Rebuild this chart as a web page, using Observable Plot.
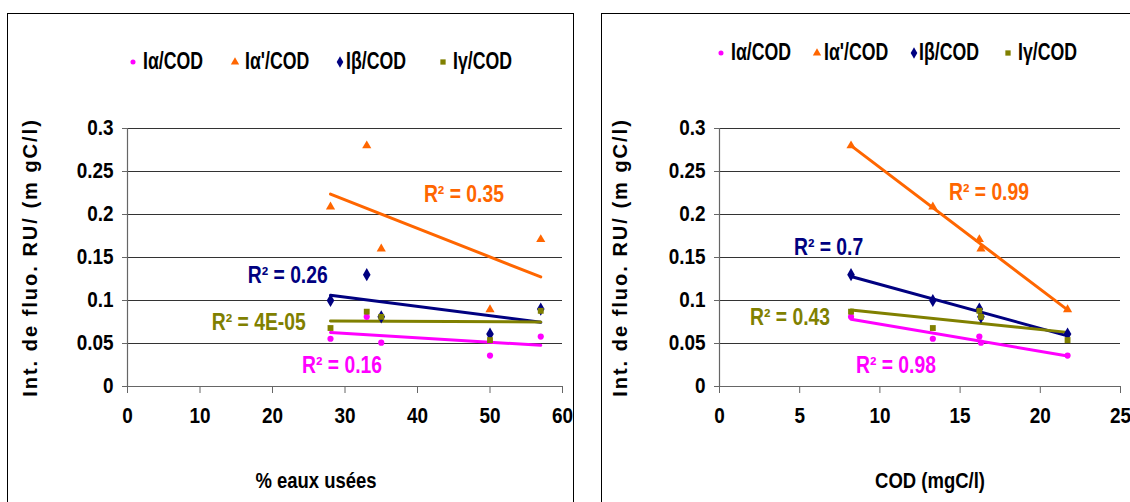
<!DOCTYPE html>
<html>
<head>
<meta charset="utf-8">
<script src="https://cdn.jsdelivr.net/npm/d3@7"></script>
<script src="https://cdn.jsdelivr.net/npm/@observablehq/plot@0.6"></script>
<style>
  html, body { margin: 0; padding: 0; background: #fff; }
  #page { position: relative; width: 1130px; height: 502px; overflow: hidden; background: #fff; }
  .frame { position: absolute; border: 1px solid #000; box-sizing: border-box; }
  .plot { position: absolute; top: 0; }
  .leg { position: absolute; font-family: "Liberation Sans", Arial, sans-serif; font-weight: bold; font-size: 23px; color: #000; white-space: nowrap; line-height: 1; transform: scaleX(0.77); transform-origin: 0 50%; }
</style>
</head>
<body>
<div id="page">
  <div class="frame" style="left:7px; top:13px; width:567px; height:520px;"></div>
  <div class="frame" style="left:601px; top:13px; width:560px; height:520px;"></div>
</div>
<script>
// ---- data ----
const pctEaux = [28, 33, 35, 50, 57];          // % eaux usées (left panel x)
const cod = [13.3, 8.2, 16.3, 21.7, 16.2];      // COD mgC/l (right panel x)
const iAlpha = [0.0555, 0.081, 0.051, 0.036, 0.058];
const iAlphaPrime = [0.209, 0.280, 0.160, 0.0895, 0.171];
const iBeta = [0.100, 0.130, 0.081, 0.061, 0.090];
const iGamma = [0.068, 0.087, 0.081, 0.054, 0.088];
const seriesNames = ["Iα/COD", "Iα'/COD", "Iβ/COD", "Iγ/COD"];
const yTicks = [0, 0.05, 0.1, 0.15, 0.2, 0.25, 0.3];
const xTicksLeft = [0, 10, 20, 30, 40, 50, 60];
const xTicksRight = [0, 5, 10, 15, 20, 25];
const r2Left = ["0.16", "0.35", "0.26", "4E-05"];
const r2Right = ["0.98", "0.99", "0.7", "0.43"];
// annotation anchors (data units) for the R² labels, per series
const r2AnchorXLeft = [29.6, 46.4, 22.1, 18.1];
const r2AnchorYLeft = [0.0244, 0.223, 0.129, 0.0748];
const r2AnchorXRight = [11.0, 16.8, 6.8, 4.4];
const r2AnchorYRight = [0.0246, 0.226, 0.162, 0.080];
const xTitleLeft = "% eaux usées";
const xTitleRight = "COD (mgC/l)";
const yTitle = "Int. de fluo. RU/ (m gC/l)";

const colors = ["#FF00FF", "#FF6600", "#000080", "#808000"];
const symbols = ["circle", "triangle", "diamond", "square"];
const symR = [3.1, 3.4, 4, 3.3];
const valueArrays = [iAlpha, iAlphaPrime, iBeta, iGamma];
const FONT = '"Liberation Sans", Arial, sans-serif';

function squeeze(svg) {
  svg.querySelectorAll("text").forEach(t => {
    const s = t.textContent;
    if (s.startsWith("Int.")) { t.style.letterSpacing = "2px"; return; }
    let f = 0.84;
    if (s.startsWith("R²")) f = 0.84;
    else if (/^[0-9.]+$/.test(s)) f = 0.88;
    const L = t.getComputedTextLength();
    if (L > 0) {
      t.setAttribute("textLength", (L * f).toFixed(2));
      t.setAttribute("lengthAdjust", "spacingAndGlyphs");
    }
  });
}

function panel(opts) {
  const {xs, xDomain, xTicks, left, width, marginLeft, marginRight, r2, ax, ay, xTitle, titleDx, yTitleDx} = opts;
  const marks = [];
  marks.push(Plot.gridY(yTicks.slice(1), {stroke: "#333", strokeOpacity: 1, strokeWidth: 1}));
  marks.push(Plot.ruleY([0], {stroke: "#666", strokeWidth: 1.2}));
  marks.push(Plot.ruleX([0], {y1: 0, y2: 0.3, stroke: "#666", strokeWidth: 1.2}));
  marks.push(Plot.axisY({ticks: yTicks, tickFormat: d => String(d), tickSize: 5, tickPadding: 9, stroke: "#666", fill: "#000", label: null}));
  marks.push(Plot.axisX({ticks: xTicks, tickFormat: d => String(d), tickSize: 7, tickPadding: 14, stroke: "#666", fill: "#000", label: null}));
  valueArrays.forEach((vals, s) => {
    const rows = xs.map((x, i) => ({x, y: vals[i]}));
    marks.push(Plot.linearRegressionY(rows, {x: "x", y: "y", stroke: colors[s], strokeWidth: 3, ci: 0}));
  });
  valueArrays.forEach((vals, s) => {
    const rows = xs.map((x, i) => ({x, y: vals[i]}));
    marks.push(Plot.dot(rows, {x: "x", y: "y", symbol: symbols[s], r: symR[s], fill: colors[s], stroke: "none"}));
  });
  const labels = r2.map((v, i) => ({x: ax[i], y: ay[i], t: `R² = ${v}`, c: colors[i]}));
  marks.push(Plot.text(labels, {x: "x", y: "y", text: "t", fill: "c", fontSize: 23, fontWeight: "bold", fontFamily: FONT}));
  marks.push(Plot.text([xTitle], {frameAnchor: "bottom", dy: 101, dx: titleDx, fontSize: 22, fontWeight: "bold", fontFamily: FONT, fill: "#000"}));
  marks.push(Plot.text([yTitle], {frameAnchor: "left", rotate: -90, textAnchor: "middle", dx: yTitleDx, fontSize: 20, fontWeight: "bold", fontFamily: FONT, fill: "#000"}));

  const svg = Plot.plot({
    width, height: 502,
    marginLeft, marginRight, marginTop: 128, marginBottom: 116,
    x: {domain: xDomain, label: null},
    y: {domain: [0, 0.3], label: null},
    fill: {type: "identity"},
    style: {fontFamily: FONT, fontSize: "21.5px", fontWeight: "bold", background: "transparent", overflow: "visible"},
    marks
  });
  svg.classList.add("plot");
  svg.style.left = left + "px";
  document.getElementById("page").appendChild(svg);
  squeeze(svg);
}

panel({xs: pctEaux, xDomain: [0, 60], xTicks: xTicksLeft, left: 0, width: 566, marginLeft: 127, marginRight: 4,
  r2: r2Left, ax: r2AnchorXLeft, ay: r2AnchorYLeft, xTitle: xTitleLeft, titleDx: -29, yTitleDx: -97});
panel({xs: cod, xDomain: [0, 25], xTicks: xTicksRight, left: 566, width: 564, marginLeft: 153, marginRight: 10,
  r2: r2Right, ax: r2AnchorXRight, ay: r2AnchorYRight, xTitle: xTitleRight, titleDx: 10, yTitleDx: -99});

// legends
function legend(markerXs, textXs, cy) {
  const page = document.getElementById("page");
  const legSym = [d3.symbolCircle, d3.symbolTriangle, d3.symbolDiamond, d3.symbolSquare];
  const legSize = [20, 30, 38, 28];
  seriesNames.forEach((name, i) => {
    const m = document.createElementNS("http://www.w3.org/2000/svg", "svg");
    m.setAttribute("width", 1); m.setAttribute("height", 1);
    m.style.position = "absolute"; m.style.left = markerXs[i] + "px"; m.style.top = cy + "px"; m.style.overflow = "visible";
    const p = document.createElementNS("http://www.w3.org/2000/svg", "path");
    p.setAttribute("d", d3.symbol(legSym[i], legSize[i])());
    p.setAttribute("fill", colors[i]);
    m.appendChild(p);
    page.appendChild(m);
    const t = document.createElement("div");
    t.className = "leg";
    t.textContent = name;
    t.style.left = textXs[i] + "px";
    t.style.top = (cy - 12.5) + "px";
    page.appendChild(t);
  });
}
legend([133, 235, 340, 443], [143, 245, 346, 453], 62);
legend([721, 817, 914, 1008], [731, 824, 919, 1018], 53);
</script>
</body>
</html>
